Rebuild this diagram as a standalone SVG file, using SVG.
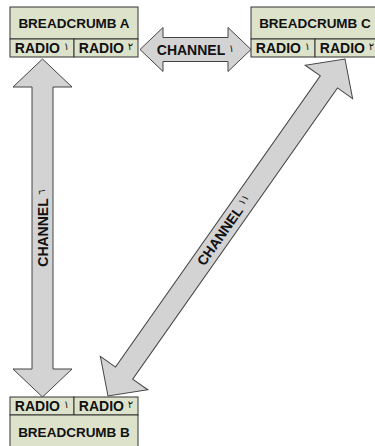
<svg xmlns="http://www.w3.org/2000/svg" width="375" height="446" viewBox="0 0 375 446">
<style>
.box{fill:#dde3cb;stroke:#333;stroke-width:1}
.arrow{fill:#d3d3d3;stroke:#444;stroke-width:1}
text{font-family:"Liberation Sans","DejaVu Sans",Arial,sans-serif;font-weight:bold;fill:#111;text-anchor:middle;dominant-baseline:central}
.title{font-size:13.5px}
.radio{font-size:14px}
.ch{font-size:14px}
.d{font-size:10px;font-weight:normal;baseline-shift:2px}
</style>
<rect width="375" height="446" fill="#fff"/>
<g id="connectors">
  <g id="channel-6">
    <polygon class="arrow" transform="translate(42.5,59) rotate(90)" points="0,0 28,-29.5 28,-10.5 310,-10.5 310,-29.5 338,0 310,29.5 310,10.5 28,10.5 28,29.5"/>
    <text class="ch" transform="translate(42.5,228) rotate(-90)">CHANNEL <tspan class="d">٦</tspan></text>
  </g>
  <g id="channel-1">
    <polygon class="arrow" transform="translate(140,49.5)" points="0,0 23,-22 23,-12 88,-12 88,-22 111,0 88,22 88,12 23,12 23,22"/>
    <text class="ch" x="195.5" y="49.5">CHANNEL <tspan class="d">١</tspan></text>
  </g>
  <g id="channel-11">
    <polygon class="arrow" transform="translate(345,59) rotate(125.12)" points="0,0 28,-29 28,-10.5 384,-10.5 384,-29 412,0 384,29 384,10.5 28,10.5 28,29"/>
    <text class="ch" transform="translate(224,230) rotate(-54.88)">CHANNEL <tspan class="d">١١</tspan></text>
  </g>
</g>
<g id="breadcrumb-a">
  <rect class="box" x="10" y="7" width="128" height="32"/>
  <rect class="box" x="10" y="39" width="64" height="18"/>
  <rect class="box" x="74" y="39" width="64" height="18"/>
  <text class="title" x="74" y="23">BREADCRUMB A</text>
  <text class="radio" x="42" y="48">RADIO <tspan class="d">١</tspan></text>
  <text class="radio" x="106" y="48">RADIO <tspan class="d">٢</tspan></text>
</g>
<g id="breadcrumb-c">
  <rect class="box" x="251" y="7" width="128" height="32"/>
  <rect class="box" x="251" y="39" width="64" height="18"/>
  <rect class="box" x="315" y="39" width="64" height="18"/>
  <text class="title" x="315" y="23">BREADCRUMB C</text>
  <text class="radio" x="283" y="48">RADIO <tspan class="d">١</tspan></text>
  <text class="radio" x="347" y="48">RADIO <tspan class="d">٢</tspan></text>
</g>
<g id="breadcrumb-b">
  <rect class="box" x="10" y="397" width="64" height="18"/>
  <rect class="box" x="74" y="397" width="64" height="18"/>
  <rect class="box" x="10" y="415" width="128" height="34"/>
  <text class="radio" x="42" y="406">RADIO <tspan class="d">١</tspan></text>
  <text class="radio" x="106" y="406">RADIO <tspan class="d">٢</tspan></text>
  <text class="title" x="74" y="432">BREADCRUMB B</text>
</g>
</svg>
